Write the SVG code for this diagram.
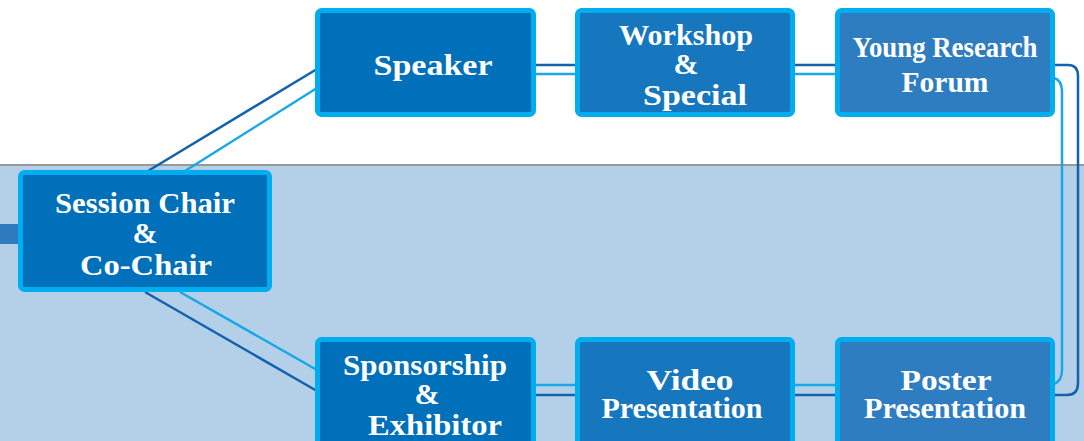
<svg xmlns="http://www.w3.org/2000/svg" width="1084" height="441" viewBox="0 0 1084 441">
<style>
.box{stroke:#00AEEF;stroke-width:5}
.c1{fill:#0070BA}
.c2{fill:#1677BE}
.c3{fill:#2F7DC1}
.t{font-family:"Liberation Serif","DejaVu Serif",serif;font-weight:bold;font-size:30px;fill:#FFFFFF;text-anchor:middle}
.dk{fill:none;stroke:#1262AE;stroke-width:2.5}
.cy{fill:none;stroke:#1AA7E6;stroke-width:2.5}
</style>
<rect x="0" y="0" width="1084" height="441" fill="#FFFFFF"/>
<rect x="0" y="165" width="1084" height="276" fill="#B4D0E8"/>
<rect x="0" y="164" width="1084" height="2" fill="#999999"/>
<rect x="0" y="224" width="20" height="20" fill="#2F7BC0"/>
<g id="connectors">
<line class="dk" x1="148" y1="171" x2="317" y2="69"/>
<line class="cy" x1="185" y1="171" x2="317" y2="88"/>
<line class="dk" x1="145" y1="292" x2="317" y2="391"/>
<line class="cy" x1="180" y1="292" x2="317" y2="370"/>
<line class="dk" x1="535" y1="65" x2="576" y2="65"/>
<line class="cy" x1="535" y1="74" x2="576" y2="74"/>
<line class="dk" x1="795" y1="65" x2="836" y2="65"/>
<line class="cy" x1="795" y1="74" x2="836" y2="74"/>
<line class="cy" x1="535" y1="385" x2="576" y2="385"/>
<line class="dk" x1="535" y1="395" x2="576" y2="395"/>
<line class="cy" x1="795" y1="385" x2="836" y2="385"/>
<line class="dk" x1="795" y1="395" x2="836" y2="395"/>
<path class="dk" d="M1054,65 H1068 Q1078,65 1078,76 V383 Q1078,395 1067,395 H1054"/>
<path class="cy" d="M1054,78 Q1062,80 1062,92 V370 Q1062,381 1054,384"/>
</g>
<g id="session-chair">
<rect class="box c1" x="20.5" y="172.5" width="249" height="117" rx="4"/>
<text class="t" x="145" y="213" textLength="180" lengthAdjust="spacingAndGlyphs">Session Chair</text>
<text class="t" x="145" y="243">&amp;</text>
<text class="t" x="146" y="275" textLength="132" lengthAdjust="spacingAndGlyphs">Co-Chair</text>
</g>
<g id="speaker">
<rect class="box c1" x="317.5" y="10.5" width="216" height="104" rx="4"/>
<text class="t" x="433" y="75" textLength="119" lengthAdjust="spacingAndGlyphs">Speaker</text>
</g>
<g id="workshop">
<rect class="box c2" x="577.5" y="10.5" width="215" height="104" rx="4"/>
<text class="t" x="686" y="45" textLength="134" lengthAdjust="spacingAndGlyphs">Workshop</text>
<text class="t" x="686" y="74">&amp;</text>
<text class="t" x="695" y="105" textLength="104" lengthAdjust="spacingAndGlyphs">Special</text>
</g>
<g id="young-research">
<rect class="box c3" x="837.5" y="10.5" width="215" height="104" rx="4"/>
<text class="t" x="945" y="57" textLength="185" lengthAdjust="spacingAndGlyphs">Young Research</text>
<text class="t" x="945" y="92" textLength="87" lengthAdjust="spacingAndGlyphs">Forum</text>
</g>
<g id="sponsorship">
<rect class="box c1" x="317.5" y="339.5" width="216" height="120" rx="4"/>
<text class="t" x="425" y="375" textLength="164" lengthAdjust="spacingAndGlyphs">Sponsorship</text>
<text class="t" x="427" y="404">&amp;</text>
<text class="t" x="435" y="435" textLength="134" lengthAdjust="spacingAndGlyphs">Exhibitor</text>
</g>
<g id="video">
<rect class="box c2" x="577.5" y="339.5" width="215" height="120" rx="4"/>
<text class="t" x="690" y="390" textLength="87" lengthAdjust="spacingAndGlyphs">Video</text>
<text class="t" x="682" y="418" textLength="161" lengthAdjust="spacingAndGlyphs">Presentation</text>
</g>
<g id="poster">
<rect class="box c3" x="837.5" y="339.5" width="215" height="120" rx="4"/>
<text class="t" x="946" y="390" textLength="91" lengthAdjust="spacingAndGlyphs">Poster</text>
<text class="t" x="945" y="418" textLength="162" lengthAdjust="spacingAndGlyphs">Presentation</text>
</g>
</svg>
